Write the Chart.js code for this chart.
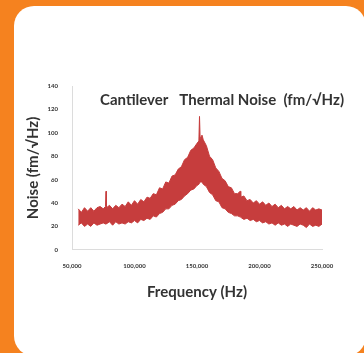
<!DOCTYPE html>
<html>
<head>
<meta charset="utf-8">
<script src="https://cdn.jsdelivr.net/npm/chart.js@4"></script>
<style>
  html, body { margin: 0; padding: 0; background: #f5821f; }
  #wrap { position: relative; width: 364px; height: 353px; overflow: hidden; }
  #card { position: absolute; left: 14px; top: 6px; width: 352px; height: 350px; background: #fff; border-radius: 20px; }
  #c { position: absolute; left: 0; top: 0; }
</style>
</head>
<body>
<div id="wrap">
  <div id="card"></div>
  <canvas id="c" width="364" height="353"></canvas>
</div>
<script>
// --- chart data ---
var chartTitle = 'Cantilever   Thermal Noise  (fm/\u221AHz)';
var xTitle = 'Frequency (Hz)';
var yTitle = 'Noise (fm/\u221AHz)';

var freqs = [55000, 57500, 60000, 62500, 65000, 67500, 70000, 72500, 75000, 76800,
             77200, 77600, 80000, 82500, 85000, 87500, 90000, 92500, 95000, 97500,
             100000, 102500, 105000, 107500, 110000, 112500, 115000, 117500, 120000, 122500,
             125000, 127500, 130000, 132500, 135000, 137500, 140000, 142500, 145000, 147500,
             150000, 151500, 152000, 152500, 154000, 155000, 157500, 160000, 162500, 165000,
             167500, 170000, 172500, 175000, 177500, 180000, 182500, 184600, 185000, 187500,
             190000, 192500, 195000, 197500, 200000, 202500, 205000, 207500, 210000, 212500,
             215000, 217500, 220000, 222500, 225000, 227500, 230000, 232500, 235000, 237500,
             240000, 242500, 245000, 247500, 250000];

// top edge of the noise band
var noiseHigh = [35, 32, 36, 33, 36, 33, 36, 37, 35, 37,
                 50, 36, 38, 35, 38, 36, 39, 37, 41, 38,
                 42, 39, 43, 41, 45, 44, 48, 47, 53, 52,
                 58, 57, 63, 64, 69, 71, 77, 79, 85, 87,
                 91, 93, 114, 95, 98, 94, 89, 80, 77, 70,
                 67, 61, 59, 54, 53, 48, 48, 50, 45, 46,
                 42, 43, 40, 42, 39, 41, 38, 40, 37, 39,
                 36, 38, 35, 37, 35, 37, 34, 36, 34, 36,
                 33, 36, 34, 35, 34];

// bottom edge of the noise band
var noiseLow = [21, 23, 20, 22, 20, 23, 21, 22, 23, 22,
                22, 22, 24, 21, 24, 22, 23, 22, 24, 23,
                25, 23, 26, 25, 27, 26, 29, 28, 31, 32,
                35, 35, 38, 39, 42, 43, 46, 48, 51, 52,
                55, 56, 57, 58, 58, 56, 54, 49, 47, 42,
                41, 36, 35, 32, 31, 29, 29, 28, 28, 26,
                27, 25, 26, 24, 25, 23, 24, 22, 23, 21,
                23, 21, 22, 20, 22, 21, 20, 22, 21, 19,
                22, 20, 21, 20, 22];

var xMin = 50000, xMax = 250000, xStep = 50000;
var yMin = 0, yMax = 140, yStep = 20;

var bandColor = '#c63d3d';
var tickColor = '#333333';
var titleColor = '#333333';
var axisLineColor = '#dcdcdc';
var fontFamily = 'Lato, "Open Sans", sans-serif';

function toPoints(ys) {
    return freqs.map(function(f, i) { return { x: f, y: ys[i] }; });
}

var ctx = document.getElementById('c');
new Chart(ctx, {
    type: 'line',
    data: {
        datasets: [{
            label: 'low',
            data: toPoints(noiseLow),
            borderColor: bandColor,
            backgroundColor: bandColor,
            borderWidth: 1,
            pointRadius: 0,
            tension: 0,
            fill: false
        }, {
            label: 'high',
            data: toPoints(noiseHigh),
            borderColor: bandColor,
            backgroundColor: bandColor,
            borderWidth: 1,
            pointRadius: 0,
            tension: 0,
            fill: '-1'
        }]
    },
    options: {
        responsive: false,
        animation: false,
        layout: { padding: { left: 20, right: 20, top: 0, bottom: 52 } },
        plugins: {
            legend: { display: false },
            tooltip: { enabled: false },
            title: {
                display: true,
                text: chartTitle,
                align: 'end',
                color: titleColor,
                font: { family: fontFamily, size: 15, weight: 'bold' },
                padding: { top: 91, bottom: -23 }
            }
        },
        scales: {
            x: {
                type: 'linear',
                min: xMin,
                max: xMax,
                grid: { display: false, drawTicks: false },
                border: { display: true, color: axisLineColor },
                ticks: {
                    stepSize: xStep,
                    color: tickColor,
                    padding: 13,
                    maxRotation: 0,
                    font: { family: fontFamily, size: 6, weight: 'bold' }
                },
                title: {
                    display: true,
                    text: xTitle,
                    color: titleColor,
                    font: { family: fontFamily, size: 15, weight: 'bold' },
                    padding: { top: 0, bottom: 0 }
                },
                // keep the plot's right edge where the reference has it
                afterFit: function(scale) { scale.paddingRight = 42; }
            },
            y: {
                min: yMin,
                max: yMax,
                grid: { display: false, drawTicks: false },
                border: { display: true, color: axisLineColor },
                ticks: {
                    stepSize: yStep,
                    color: tickColor,
                    padding: 14,
                    font: { family: fontFamily, size: 6, weight: 'bold' }
                },
                title: {
                    display: true,
                    text: yTitle,
                    color: titleColor,
                    font: { family: fontFamily, size: 15, weight: 'bold' },
                    padding: { top: 4, bottom: 0 }
                },
                afterFit: function(scale) { scale.width = 52; }
            }
        }
    }
});
</script>
</body>
</html>
